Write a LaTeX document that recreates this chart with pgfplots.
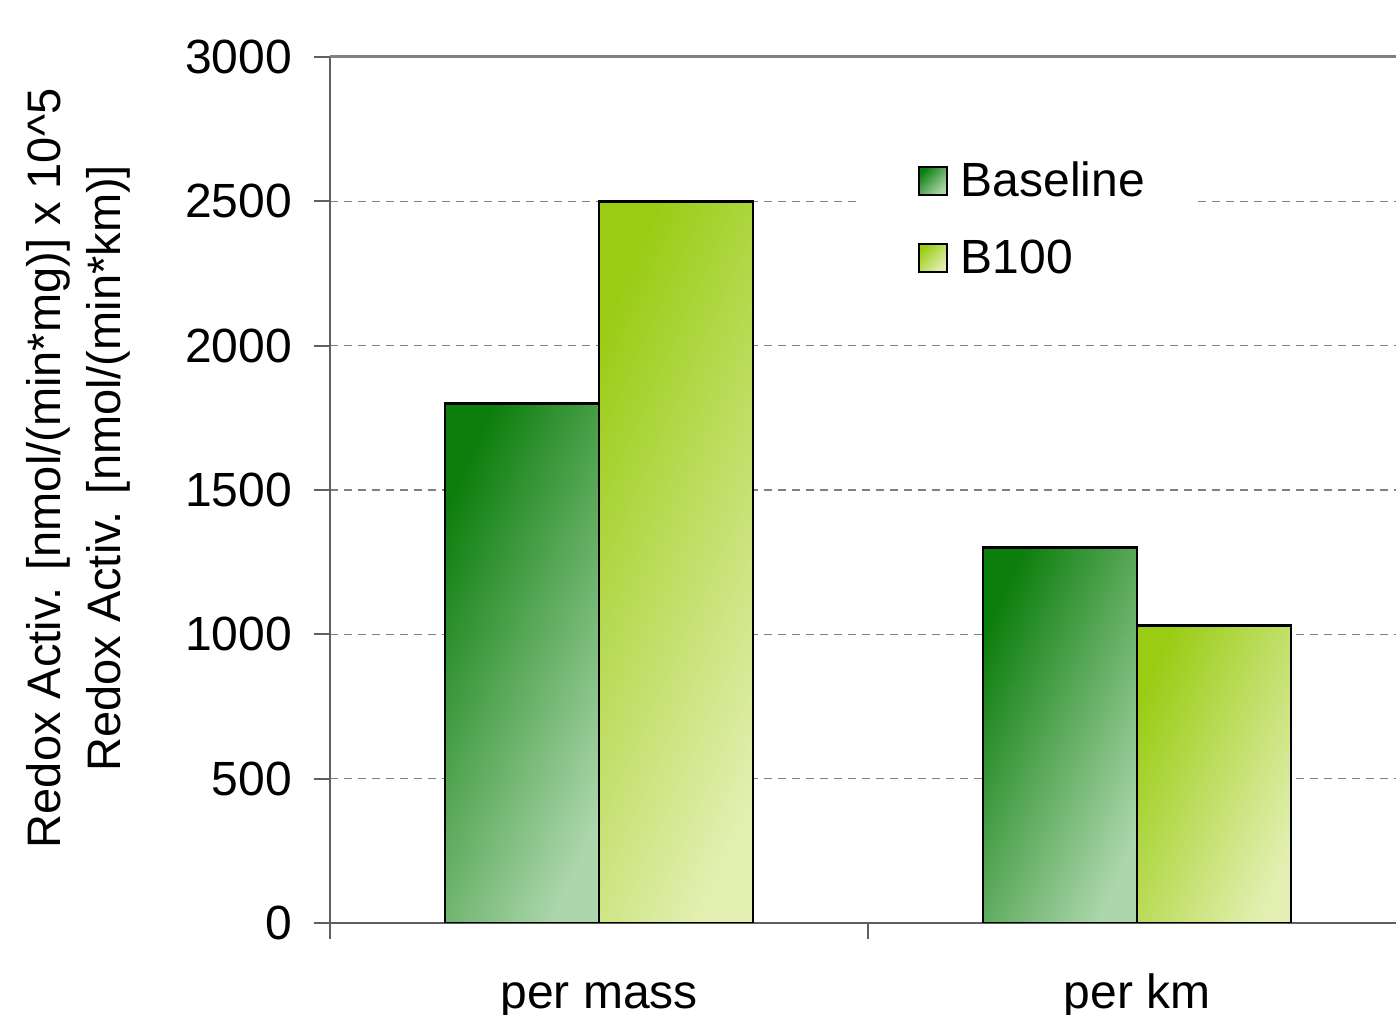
\documentclass[border=0pt]{standalone}
\usepackage{fontspec}
\setmainfont{Liberation Sans}
\usepackage{pgfplots}
\pgfplotsset{compat=1.18}
\usetikzlibrary{calc}

\definecolor{baseDark}{RGB}{12,126,12}
\definecolor{baseLight}{RGB}{172,214,172}
\definecolor{bioDark}{RGB}{154,204,20}
\definecolor{bioLight}{RGB}{226,239,176}
\definecolor{axisgray}{RGB}{95,95,95}
\definecolor{gridgray}{RGB}{128,128,128}

% one shaded bar per \addplot so that every bar gets its own gradient
\pgfplotsset{
  baseline bar/.style={ybar, bar width=77pt, bar shift=-38.5pt, draw=black, line width=1.3pt,
    top color=baseDark, bottom color=baseLight, shading angle=66},
  bio bar/.style={ybar, bar width=77pt, bar shift=38.5pt, draw=black, line width=1.3pt,
    top color=bioDark, bottom color=bioLight, shading angle=66},
}

\begin{document}
\begin{tikzpicture}
\begin{axis}[
  at={(0,0)}, anchor=south west,
  scale only axis,
  width=533pt, height=433pt,
  xmin=-0.5, xmax=1.481,
  ymin=0, ymax=3000,
  axis x line*=bottom, axis y line*=left,
  axis line style={draw=axisgray, line width=1.1pt},
  tick align=outside, major tick length=8pt,
  tick style={draw=axisgray, line width=1pt},
  /pgf/number format/assume math mode=true,
  /pgf/number format/1000 sep={},
  ytick={0,500,...,2500},
  extra y ticks={3000},
  extra y tick style={grid=major, major grid style={solid, draw=gridgray, line width=1.5pt}},
  ymajorgrids,
  major grid style={dashed, dash pattern=on 4pt off 3pt, draw=gridgray, line width=0.7pt},
  yticklabel style={anchor=east, xshift=-7.5pt, font=\fontsize{24}{29}\selectfont},
  xtick={0,1},
  xticklabels={per mass, per km},
  xtick style={draw=none},
  xticklabel style={anchor=base, yshift=-34.5pt, font=\fontsize{24}{29}\selectfont},
  extra x ticks={-0.5,0.5},
  extra x tick labels={\mbox{},\mbox{}},
  extra x tick style={xtick style={draw=axisgray}},
  ylabel={Redox Activ. [nmol/(min*mg)] x 10\textasciicircum 5\\Redox Activ. [nmol/(min*km)]},
  ylabel style={at={(axis description cs:-0.2364,0.525)}, anchor=center, align=center,
    font=\fontsize{23.5}{30}\selectfont},
  legend style={at={(axis description cs:0.499,0.898)}, anchor=north west,
    draw=none, fill=white, inner xsep=22pt, inner ysep=6pt,
    row sep=16pt, font=\fontsize{24}{29}\selectfont},
  legend cell align=left,
]
\coordinate (O) at (axis description cs:0,0);
\addplot[baseline bar,
  legend image code/.code={\path (0pt,0) (24pt,0);
    \draw[draw=black, line width=1pt, top color=baseDark, bottom color=baseLight, shading angle=45]
      (5.5pt,-7pt) rectangle (19.5pt,7pt);}]
  coordinates {(0,1800)};
\addlegendentry{Baseline}
\addplot[baseline bar, forget plot] coordinates {(1,1300)};
\addplot[bio bar,
  legend image code/.code={\path (0pt,0) (24pt,0);
    \draw[draw=black, line width=1pt, top color=bioDark, bottom color=bioLight, shading angle=45]
      (5.5pt,-7pt) rectangle (19.5pt,7pt);}]
  coordinates {(0,2500)};
\addlegendentry{B100}
\addplot[bio bar, forget plot] coordinates {(1,1030)};
\end{axis}
\pgfresetboundingbox
\path[use as bounding box] ($(O)+(-165pt,-46pt)$) rectangle ($(O)+(533pt,461.5pt)$);
\end{tikzpicture}
\end{document}
